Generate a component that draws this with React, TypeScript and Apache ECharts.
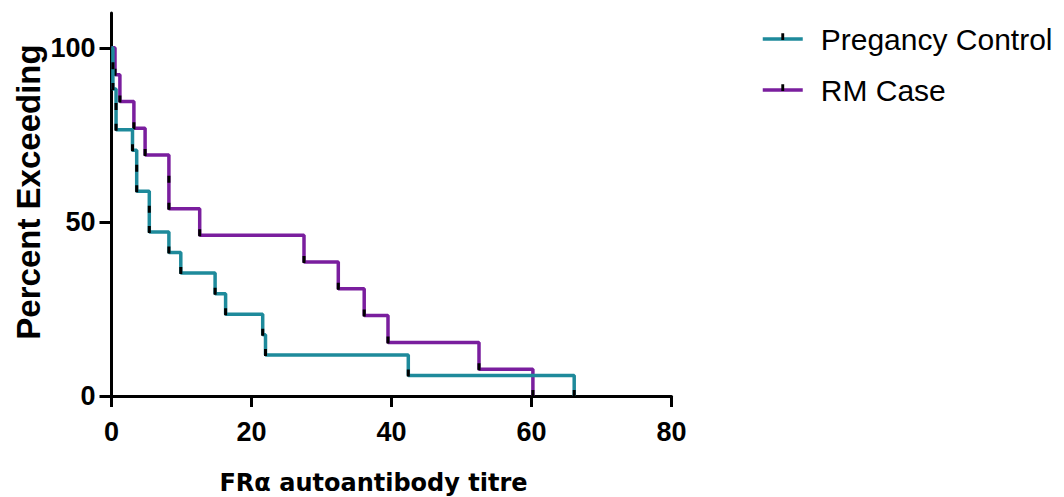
import React, { useEffect, useRef } from "react";
import * as echarts from "echarts";

// Titre at which each sample leaves the "percent exceeding" curve, with the
// percentage of the group still above it after that sample.
const controlTitres = [0.2, 0.2, 0.65, 0.65, 3.0, 3.6, 3.6, 5.4, 5.4, 8.2, 9.9, 14.8, 16.3, 21.6, 22.0, 42.4, 66.1];
const controlPercent = [94.1, 88.2, 82.4, 76.5, 70.6, 64.7, 58.8, 52.9, 47.1, 41.2, 35.3, 29.4, 23.5, 17.6, 11.8, 5.9, 0];
const caseTitres = [0.5, 1.2, 3.2, 4.8, 8.2, 8.2, 12.6, 27.5, 32.4, 36.1, 39.5, 52.5, 60.2];
const casePercent = [92.3, 84.6, 76.9, 69.2, 61.5, 53.8, 46.2, 38.5, 30.8, 23.1, 15.4, 7.7, 0];
const startTitre = 0;
const startPercent = 100;

const xTickValues = [0, 20, 40, 60, 80];
const yTickValues = [0, 50, 100];
const seriesNames = ["Pregancy Control", "RM Case"];
const seriesColors = ["#1e8a9b", "#7a1e9e"];

// Short vertical tick drawn at every data point (padded to a square box so
// it keeps its thin shape in the legend icon as well).
const tickSymbol =
  "path://M0,0L20,0Z M8.5,4L11.5,4L11.5,11L8.5,11Z M0,20L20,20Z";

function stepData(titres: number[], percents: number[]) {
  return [
    { value: [startTitre, startPercent], symbol: "none" },
    ...titres.map((t, i) => ({ value: [t, percents[i]] })),
  ];
}

export default function App() {
  const ref = useRef<HTMLDivElement>(null);

  useEffect(() => {
    if (!ref.current) return;
    const chart = echarts.init(ref.current, undefined, { renderer: "svg" });

    const axisFont = { fontFamily: "Liberation Sans", fontWeight: "bold" as const, color: "#000" };

    const makeSeries = (idx: number, titres: number[], percents: number[], z: number) => ({
      name: seriesNames[idx],
      type: "line",
      step: "end",
      data: stepData(titres, percents),
      symbol: tickSymbol,
      symbolSize: 20,
      z,
      color: seriesColors[idx],
      lineStyle: { color: seriesColors[idx], width: 3.5 },
      itemStyle: { color: "#000", borderWidth: 0 },
      emphasis: { disabled: true },
    });

    chart.setOption({
      animation: false,
      grid: {
        left: 111.5,
        right: 392.5,
        top: 13,
        bottom: 101,
        containLabel: false,
        outerBoundsMode: "none",
      },
      legend: {
        orient: "vertical",
        left: 756,
        top: 19,
        itemWidth: 40,
        itemHeight: 24,
        itemGap: 21,
        data: seriesNames,
        lineStyle: { width: 3.5 },
        textStyle: {
          fontFamily: "Liberation Sans",
          fontSize: 30,
          color: "#000",
          padding: [0, 0, 0, 13],
        },
      },
      xAxis: {
        type: "value",
        min: xTickValues[0],
        max: xTickValues[xTickValues.length - 1],
        interval: 20,
        splitLine: { show: false },
        axisLine: { lineStyle: { color: "#000", width: 3 } },
        axisTick: { length: 11, lineStyle: { color: "#000", width: 3 } },
        axisLabel: { ...axisFont, fontSize: 27, margin: 22 },
      },
      yAxis: {
        type: "value",
        min: 0,
        max: 110,
        interval: 50,
        splitLine: { show: false },
        axisLine: { show: true, lineStyle: { color: "#000", width: 3 } },
        axisTick: {
          show: true,
          length: 12,
          customValues: yTickValues,
          lineStyle: { color: "#000", width: 3 },
        },
        axisLabel: { ...axisFont, fontSize: 27, margin: 16, customValues: yTickValues },
      },
      graphic: [
        {
          type: "text",
          x: 28,
          y: 192,
          rotation: Math.PI / 2,
          style: {
            text: "Percent Exceeding",
            font: 'bold 33px "Liberation Sans"',
            fill: "#000",
            textAlign: "center",
            textVerticalAlign: "middle",
          },
        },
        {
          type: "text",
          x: 373.5,
          y: 483,
          style: {
            text: "FRα autoantibody titre",
            font: 'bold 24px "DejaVu Sans"',
            fill: "#000",
            textAlign: "center",
            textVerticalAlign: "middle",
          },
        },
      ],
      series: [
        makeSeries(0, controlTitres, controlPercent, 3),
        makeSeries(1, caseTitres, casePercent, 2),
      ],
    });

    return () => chart.dispose();
  }, []);

  return (
    <div
      ref={ref}
      style={{ position: "fixed", left: 0, top: 0, width: 1064, height: 497, background: "#fff" }}
    />
  );
}
